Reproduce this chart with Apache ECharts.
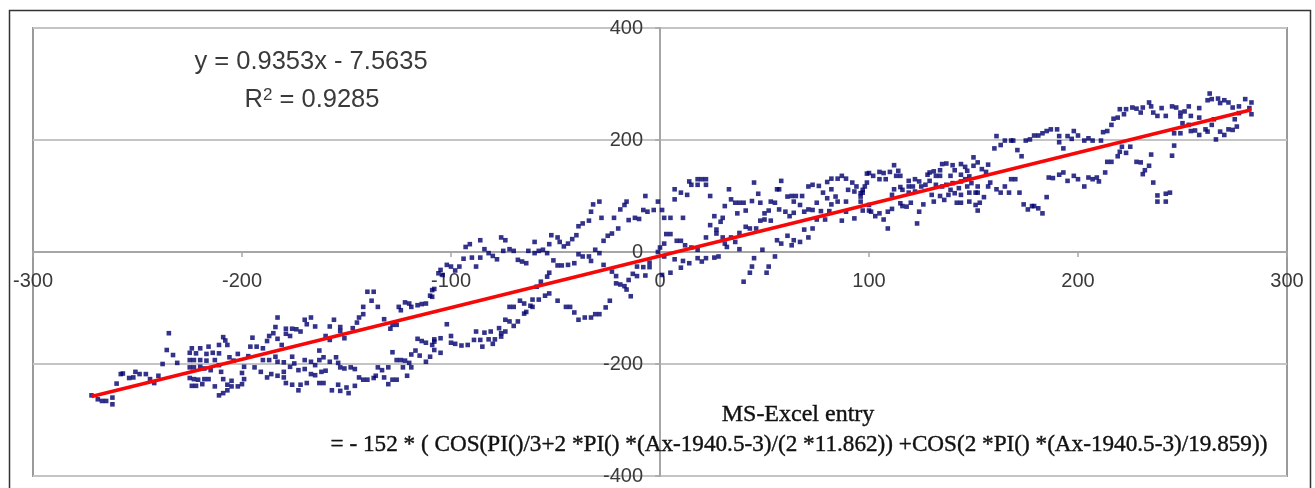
<!DOCTYPE html>
<html><head><meta charset="utf-8">
<style>html,body{margin:0;padding:0;background:#fff}#c{width:1315px;height:488px;filter:blur(0.3px)}</style>
<script src="https://cdn.jsdelivr.net/npm/echarts@6/dist/echarts.min.js"></script></head>
<body><div id="c"></div>
<script>
const xTicks = {min:-300,max:300,step:100};
const yTicks = {min:-400,max:400,step:200};
const trendLine = [[-272,-258],[283,254]];
const equationText = 'y = 0.9353x - 7.5635';
const r2Parts = ['R','2',' = 0.9285'];
const noteTitle = 'MS-Excel entry';
const noteFormula = '= - 152 * ( COS(PI()/3+2 *PI() *(Ax-1940.5-3)/(2 *11.862)) +COS(2 *PI() *(Ax-1940.5-3)/19.859))';

const pointsFarLeft = [[-272,-256],[-269,-263],[-267,-266],[-265,-266],[-262,-272],[-262,-260],[-260,-235],[-258,-218],[-257,-217],[-254,-225],[-252,-224],[-251,-214],[-249,-218],[-246,-218],[-244,-227],[-242,-234],[-240,-221],[-238,-200],[-236,-175],[-235,-145],[-233,-184],[-231,-198]];
const pointsClusterLeft = [[-224,-172],[-220,-172],[-216,-169],[-211,-166],[-209,-152],[-208,-158],[-207,-166],[-225,-180],[-222,-181],[-217,-182],[-214,-180],[-211,-181],[-225,-193],[-223,-193],[-220,-193],[-217,-194],[-213,-193],[-225,-206],[-223,-206],[-220,-205],[-218,-208],[-215,-211],[-211,-202],[-210,-214],[-225,-225],[-223,-227],[-221,-228],[-218,-227],[-216,-227],[-224,-239],[-222,-239],[-219,-236],[-213,-240],[-211,-256],[-209,-252],[-207,-247],[-209,-227],[-205,-230],[-207,-237],[-205,-240],[-202,-240],[-200,-236],[-199,-227],[-206,-188],[-202,-182],[-204,-194],[-199,-205],[-200,-216],[-197,-186],[-196,-169],[-195,-153],[-193,-169],[-190,-172],[-188,-159],[-187,-150],[-185,-145],[-183,-155],[-181,-166],[-184,-134],[-183,-117],[-179,-146],[-177,-150],[-179,-137],[-176,-137],[-174,-138],[-172,-142],[-170,-121],[-167,-117],[-169,-129],[-165,-133]];
const pointsLowerLeft = [[-194,-206],[-191,-214],[-188,-224],[-186,-218],[-183,-221],[-180,-214],[-180,-224],[-179,-234],[-176,-237],[-173,-247],[-172,-237],[-169,-234],[-190,-193],[-187,-193],[-184,-187],[-183,-196],[-180,-197],[-176,-187],[-177,-205],[-175,-199],[-173,-211],[-170,-209],[-170,-193],[-167,-196],[-165,-202],[-163,-193],[-161,-188],[-163,-176],[-165,-220],[-167,-218],[-162,-214],[-160,-212],[-163,-234],[-161,-234],[-158,-196],[-155,-188],[-154,-198],[-153,-206],[-151,-208],[-148,-206],[-146,-209],[-144,-224],[-142,-228],[-140,-228],[-137,-225],[-136,-221],[-135,-206],[-133,-211],[-130,-206],[-132,-224],[-130,-236],[-128,-228],[-126,-228],[-121,-221],[-128,-179],[-126,-193],[-124,-193],[-122,-194],[-123,-206],[-120,-198],[-119,-206],[-119,-183],[-117,-176],[-115,-185],[-112,-196],[-110,-187],[-108,-175],[-105,-180],[-157,-247],[-154,-237],[-153,-248],[-150,-242],[-149,-252],[-146,-239]];
const pointsUpperLeft = [[-160,-150],[-158,-157],[-158,-133],[-156,-121],[-153,-134],[-153,-141],[-151,-154],[-147,-136],[-145,-126],[-144,-117],[-142,-111],[-142,-98],[-138,-87],[-140,-71],[-137,-71],[-135,-98],[-132,-120],[-129,-137],[-128,-130],[-126,-130],[-125,-98],[-124,-104],[-122,-90],[-120,-92],[-119,-98],[-116,-95],[-114,-93],[-112,-92],[-110,-78],[-108,-66],[-109,-80],[-106,-38],[-116,-155],[-114,-159],[-112,-162],[-109,-166],[-108,-156]];
const pointsLowerMiddle = [[-102,-129],[-100,-150],[-105,-154],[-108,-160],[-100,-162],[-98,-164],[-95,-167],[-92,-166],[-88,-142],[-89,-157],[-86,-157],[-84,-144],[-81,-142],[-82,-156],[-79,-156],[-85,-169],[-80,-164],[-77,-136],[-76,-145],[-74,-142],[-76,-151],[-74,-121],[-72,-124],[-68,-124],[-70,-132],[-65,-110],[-64,-107],[-61,-98],[-72,-98],[-70,-98],[-67,-87],[-65,-92],[-62,-96],[-61,-85],[-58,-85],[-55,-78],[-53,-74],[-59,-62],[-57,-53],[-54,-44],[-53,-37],[-49,-87],[-45,-98],[-43,-98],[-41,-108],[-39,-121],[-36,-117],[-33,-117],[-31,-111],[-29,-111],[-26,-99],[-24,-87],[-27,-23],[-23,-35],[-21,-43],[-21,-56],[-19,-58],[-17,-61],[-14,-79],[-16,-67],[-15,-50],[-13,-39],[-11,-43],[-7,-42],[-11,-26],[-8,-27],[-5,-27],[-5,-19]];
const pointsUpperMiddle = [[-109,-68],[-105,-32],[-104,-41],[-102,-23],[-100,-26],[-96,-26],[-98,-33],[-88,-26],[-94,-12],[-90,-10],[-86,-10],[-93,9],[-91,14],[-86,21],[-84,5],[-82,-2],[-80,-7],[-78,-13],[-76,26],[-74,21],[-75,2],[-72,5],[-70,2],[-68,-14],[-66,-17],[-64,-20],[-63,2],[-60,-2],[-58,2],[-56,4],[-54,-2],[-60,18],[-53,14],[-52,30],[-49,26],[-48,18],[-46,10],[-44,15],[-42,23],[-40,30],[-51,-15],[-49,-24],[-47,-24],[-44,-23],[-41,-20],[-39,-4],[-37,-8],[-34,-8],[-33,-16],[-31,4],[-29,-2],[-39,46],[-37,51],[-34,56],[-33,72],[-32,85],[-29,90],[-28,61],[-22,61],[-20,42],[-23,33],[-25,29],[-27,20],[-19,76],[-17,84],[-16,90],[-15,57],[-12,61],[-10,59],[-7,100],[-8,75],[-6,72],[-3,75],[1,75],[-1,90]];
const pointsCentre = [[2,61],[5,61],[11,61],[7,94],[7,112],[10,106],[13,102],[14,126],[15,120],[18,130],[18,120],[20,130],[22,130],[22,120],[24,100],[3,32],[5,32],[2,15],[0,8],[-1,0],[8,20],[10,20],[12,12],[15,8],[18,4],[2,-8],[7,-13],[11,-16],[14,-20],[18,-11],[20,-17],[22,-11],[26,-10],[28,-8],[10,-28],[5,-37],[1,-41],[26,64],[30,61],[29,54],[24,48],[27,40],[27,33],[22,26],[30,26],[31,15],[32,9],[34,26],[36,18],[38,5],[38,34],[41,45],[43,42],[46,42],[49,4],[45,-11],[44,-26],[43,-37],[40,-53],[52,-26],[51,-37],[55,-8]];
const pointsCentreRight = [[31,82],[33,112],[34,94],[36,88],[38,88],[40,88],[44,91],[41,74],[37,69],[45,124],[47,104],[48,88],[52,74],[50,69],[48,56],[50,58],[53,56],[53,90],[55,88],[57,76],[60,72],[62,64],[64,70],[67,84],[69,72],[71,76],[73,75],[75,88],[77,73],[81,73],[79,58],[75,58],[87,56],[93,60],[89,72],[56,112],[57,112],[58,127],[61,99],[63,100],[65,100],[68,100],[64,90],[71,117],[73,120],[76,118],[78,106],[80,125],[82,131],[85,131],[87,136],[89,131],[92,124],[94,117],[90,111],[93,108],[82,112],[84,99],[80,96],[82,85],[85,90],[89,90],[96,105],[97,111],[96,90],[99,140],[100,84],[56,21],[58,15],[61,29],[63,12],[64,21],[67,18],[71,26],[69,40],[73,42]];
const pointsClusterRight = [[96,99],[97,106],[98,117],[99,124],[100,141],[102,136],[105,143],[105,130],[107,141],[108,130],[110,143],[112,155],[114,145],[113,136],[115,136],[97,74],[100,74],[101,72],[103,64],[105,69],[107,58],[109,42],[109,72],[111,77],[115,87],[116,82],[118,81],[120,88],[124,72],[123,51],[126,85],[111,102],[112,112],[115,116],[116,111],[119,117],[119,127],[122,130],[124,126],[121,117],[125,117],[119,106],[122,108],[127,120],[129,127],[128,138],[129,142],[131,144],[134,146],[135,157],[137,158],[140,155],[141,146],[144,157],[146,152],[147,145],[144,138],[148,135],[139,136],[134,136],[132,136],[132,120],[135,117],[137,120],[140,123],[144,126],[146,130],[130,102],[131,90],[134,100],[136,93],[138,102],[141,105],[144,102],[148,106],[151,106],[152,106],[152,117],[149,123],[147,117],[143,114],[139,111],[142,88],[144,88],[148,90],[151,84],[153,88],[152,74],[155,98],[150,169],[150,154],[152,160],[154,148],[156,143],[157,156],[158,124],[157,117],[161,112],[163,106],[165,117],[167,106],[168,130],[170,130],[172,106],[174,85],[176,76],[178,82],[179,82],[181,78],[183,69],[185,98]];
const pointsUpperRight = [[160,185],[161,207],[163,191],[165,199],[168,199],[169,199],[171,182],[173,171],[175,199],[177,201],[179,208],[181,208],[183,212],[185,216],[187,219],[190,219],[191,207],[191,196],[193,185],[195,207],[197,202],[198,216],[200,208],[203,199],[205,203],[207,199],[211,199],[212,214],[214,216],[216,227],[217,238],[219,240],[220,255],[222,246],[223,255],[226,258],[228,256],[230,249],[231,258],[234,267],[235,260],[236,249],[238,243],[240,257],[242,243],[245,260],[247,258],[249,249],[253,260],[251,251],[254,243],[258,257],[258,240],[262,271],[263,283],[264,273],[267,274],[268,266],[270,271],[272,267],[274,258],[277,260],[280,273],[283,267],[282,257],[283,246],[277,248],[275,237],[276,224],[274,218],[272,219],[270,209],[268,215],[266,201],[262,215],[261,219],[258,209],[256,217],[254,216],[253,227],[250,230],[249,212],[249,242],[246,212],[265,237],[264,227]];
const pointsLowerRight = [[186,133],[188,132],[191,138],[193,142],[195,127],[198,136],[200,130],[203,117],[205,133],[207,130],[209,133],[210,126],[213,142],[214,161],[216,161],[219,171],[221,188],[220,179],[223,177],[225,188],[228,161],[230,160],[234,154],[232,146],[231,139],[235,174],[236,124],[238,101],[238,90],[242,90],[242,104],[244,106],[245,172],[246,190]];

const allPoints = [].concat(pointsFarLeft,pointsClusterLeft,pointsLowerLeft,pointsUpperLeft,pointsLowerMiddle,pointsUpperMiddle,pointsCentre,pointsCentreRight,pointsClusterRight,pointsUpperRight,pointsLowerRight);

const chart = echarts.init(document.getElementById('c'),null,{renderer:'canvas'});
const axisGray='#a6a6a6';
const labelStyle={color:'#3a3a3a',fontFamily:'Liberation Sans',fontSize:20};
const gridLeft=33,gridTop=28,gridWidth=1254,gridHeight=448;
chart.setOption({
  animation:false,
  backgroundColor:'#fff',
  grid:{left:gridLeft,top:gridTop,width:gridWidth,height:gridHeight,show:true,borderColor:'#9a9a9a',borderWidth:2,backgroundColor:'#fff',containLabel:false,outerBoundsMode:'none'},
  xAxis:{type:'value',position:'bottom',offset:-gridHeight/2,min:xTicks.min,max:xTicks.max,interval:xTicks.step,
    axisLine:{onZero:false,lineStyle:{color:axisGray,width:2}},
    axisTick:{show:true,length:5,inside:false,lineStyle:{color:axisGray,width:1.5}},
    axisLabel:Object.assign({margin:19,showMinLabel:true,showMaxLabel:true,hideOverlap:false},labelStyle),
    splitLine:{show:false}},
  yAxis:{type:'value',position:'left',offset:-gridWidth/2,min:yTicks.min,max:yTicks.max,interval:yTicks.step,
    axisLine:{onZero:false,lineStyle:{color:axisGray,width:2}},
    axisTick:{show:true,length:5,lineStyle:{color:axisGray,width:1.5}},
    axisLabel:Object.assign({margin:17,showMinLabel:true,showMaxLabel:true,hideOverlap:false},labelStyle),
    splitLine:{show:true,lineStyle:{color:'#c4c4c4',width:2}}},
  series:[
    {type:'scatter',data:allPoints,symbol:'rect',symbolSize:4.6,itemStyle:{color:'#00006e'},silent:true,z:3},
    {type:'line',data:trendLine,symbol:'none',lineStyle:{color:'#f60808',width:3.5},silent:true,z:4}
  ],
  graphic:[
    {type:'rect',silent:true,z:0,shape:{x:9.5,y:10.5,width:1301,height:500},style:{fill:'none',stroke:'#333',lineWidth:1.5}},
    {type:'text',silent:true,z:10,x:311,y:62,style:{text:equationText,font:'25.5px "Liberation Sans"',fill:'#3a3a3a',align:'center',verticalAlign:'middle'}},
    {type:'text',silent:true,z:10,x:312,y:100,style:{text:'{a|'+r2Parts[0]+'}{b|'+r2Parts[1]+'}{a|'+r2Parts[2]+'}',align:'center',verticalAlign:'middle',fill:'#3a3a3a',
      rich:{a:{font:'25.5px "Liberation Sans"',fill:'#3a3a3a',verticalAlign:'bottom'},b:{font:'17px "Liberation Sans"',fill:'#3a3a3a',verticalAlign:'top'}}}},
    {type:'text',silent:true,z:10,x:798,y:415,style:{text:noteTitle,font:'24px "Liberation Serif"',fill:'#111',stroke:'#111',lineWidth:0.4,align:'center',verticalAlign:'middle'}},
    {type:'text',silent:true,z:10,x:799,y:445,style:{text:noteFormula,font:'23.2px "Liberation Serif"',fill:'#111',stroke:'#111',lineWidth:0.4,align:'center',verticalAlign:'middle'}}
  ]
});
</script></body></html>
